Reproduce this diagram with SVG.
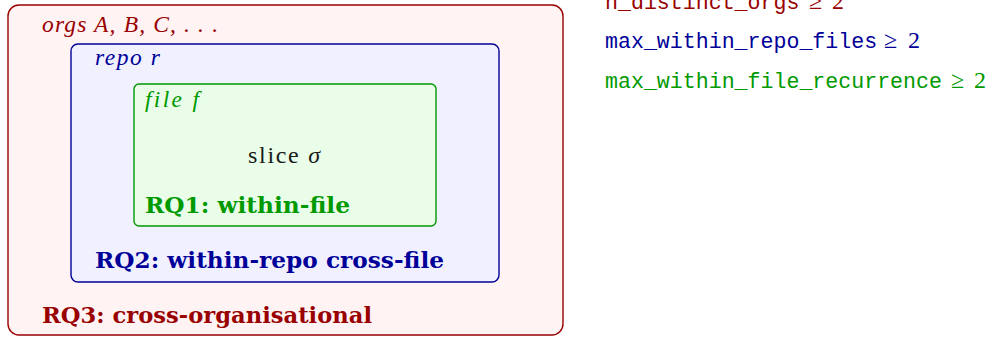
<svg xmlns="http://www.w3.org/2000/svg" width="993" height="337" viewBox="0 0 993 337">
<style>
.it{font-family:"Liberation Serif",serif;font-style:italic;font-size:23.5px}
.rm{font-family:"Liberation Serif",serif;font-size:24px}
.bf{font-family:"DejaVu Serif","Liberation Serif",serif;font-weight:bold;font-size:22px}
.tt{font-family:"Liberation Mono",monospace;font-size:21.6px}
.red{fill:#990000}.blue{fill:#000099}.green{fill:#009900}
</style>
<rect width="993" height="337" fill="#ffffff"/>
<g id="orgs">
<rect x="8" y="5" width="555" height="330" rx="11" ry="11" fill="#fff3f3" stroke="#990000" stroke-width="1.4"/>
<text class="it red" x="42" y="32" textLength="176" lengthAdjust="spacing">orgs A, B, C, . . .</text>
<text class="bf red" x="42" y="323" textLength="330" lengthAdjust="spacingAndGlyphs">RQ3: cross-organisational</text>
</g>
<g id="repo">
<rect x="71" y="44" width="428" height="238" rx="7" ry="7" fill="#f0f0ff" stroke="#000099" stroke-width="1.4"/>
<text class="it blue" x="95" y="65" textLength="65" lengthAdjust="spacing">repo r</text>
<text class="bf blue" x="95" y="268" textLength="349" lengthAdjust="spacingAndGlyphs">RQ2: within-repo cross-file</text>
</g>
<g id="file">
<rect x="134" y="84" width="302" height="142" rx="5" ry="5" fill="#e9fde9" stroke="#009900" stroke-width="1.4"/>
<text class="it green" x="145" y="107" textLength="54" lengthAdjust="spacing">file f</text>
<text class="rm" x="248" y="163" fill="#1a1a1a" textLength="72" lengthAdjust="spacing">slice <tspan font-style="italic">σ</tspan></text>
<text class="bf green" x="145" y="213" textLength="205" lengthAdjust="spacingAndGlyphs">RQ1: within-file</text>
</g>
<g id="legend">
<text class="tt red" x="605" y="9">n_distinct_orgs</text>
<text class="rm red" x="809" y="9">≥<tspan x="832">2</tspan></text>
<text class="tt blue" x="605" y="48">max_within_repo_files</text>
<text class="rm blue" x="884" y="48">≥<tspan x="908">2</tspan></text>
<text class="tt green" x="605" y="88">max_within_file_recurrence</text>
<text class="rm green" x="951" y="88">≥<tspan x="974">2</tspan></text>
</g>
<g id="connectors"></g>
</svg>
